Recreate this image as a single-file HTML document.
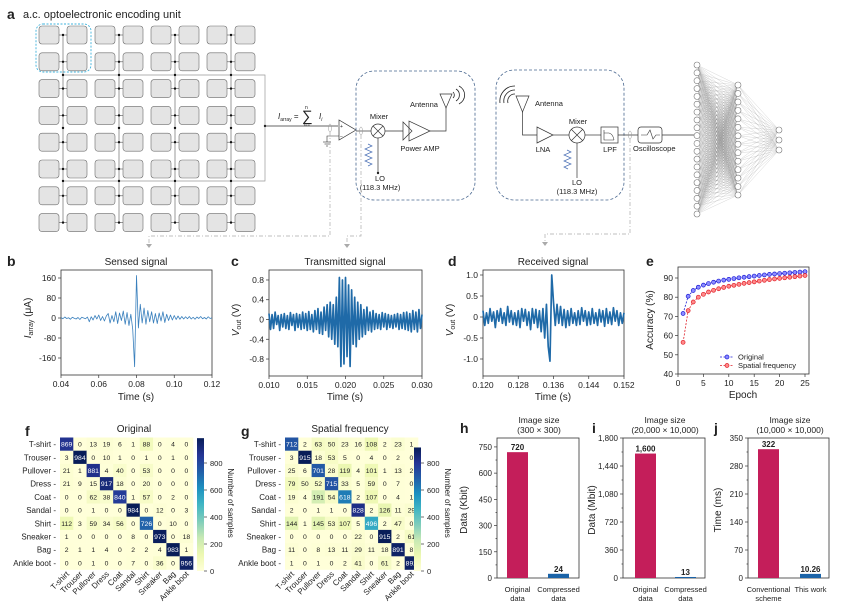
<!DOCTYPE html>
<html><head><meta charset="utf-8">
<style>
html,body{margin:0;padding:0;background:#fff;}
svg{display:block;font-family:"Liberation Sans",Arial,sans-serif;}
text{fill:#222;}
</style></head>
<body>
<svg id="fig" width="860" height="615" viewBox="0 0 860 615" xmlns="http://www.w3.org/2000/svg">
<g id="panel-a">
  <text x="7" y="19" font-size="14" font-weight="bold">a</text>
  <text x="23" y="18" font-size="11">a.c. optoelectronic encoding unit</text>
  <rect x="36" y="24" width="55" height="48" rx="7" fill="none" stroke="#3fb3dc" stroke-width="0.9" stroke-dasharray="2 1.5"/>
  <polyline points="62,75 265,75 265,181 62,181" fill="none" stroke="#999" stroke-width="0.7"/>
  <line x1="265" y1="126" x2="338" y2="126" stroke="#333" stroke-width="0.7"/>
  <circle cx="265" cy="126" r="1.2" fill="#222"/>
  <text x="278" y="119" font-size="8" font-style="italic">I<tspan font-size="5" font-style="normal" dy="2">array</tspan><tspan dy="-2" font-style="normal" font-size="8"> = </tspan></text>
  <text x="302" y="121" font-size="15">∑</text>
  <text x="305" y="109" font-size="5">n</text>
  <text x="304" y="126" font-size="4.5">i=1</text>
  <text x="319" y="119" font-size="8" font-style="italic">I<tspan font-size="5" dy="2">i</tspan></text>
  <ellipse cx="330" cy="128" rx="1.5" ry="4" fill="none" stroke="#999" stroke-width="0.5"/>
  <polygon points="339,120 339,140 356,130" fill="none" stroke="#333" stroke-width="0.7"/>
  <text x="340" y="128" font-size="5">+</text>
  <text x="340" y="138" font-size="5">−</text>
  <polyline points="339,136 327,136 327,142" fill="none" stroke="#333" stroke-width="0.6"/>
  <line x1="323" y1="142" x2="331" y2="142" stroke="#333" stroke-width="0.6"/>
  <line x1="324.5" y1="144" x2="329.5" y2="144" stroke="#333" stroke-width="0.6"/>
  <line x1="326" y1="146" x2="328" y2="146" stroke="#333" stroke-width="0.6"/>
  <rect x="356" y="71" width="119" height="129" rx="18" fill="none" stroke="#4a6890" stroke-width="0.8" stroke-dasharray="3 2"/>
  <line x1="356" y1="131" x2="371" y2="131" stroke="#333" stroke-width="0.7"/>
  <ellipse cx="361" cy="131" rx="1.5" ry="4" fill="none" stroke="#999" stroke-width="0.5"/>
  <circle cx="378" cy="131" r="7" fill="#fff" stroke="#333" stroke-width="0.7"/>
  <path d="M373,126 L383,136 M383,126 L373,136" stroke="#333" stroke-width="0.7"/>
  <text x="379" y="119" font-size="7.5" text-anchor="middle">Mixer</text>
  <line x1="378" y1="138" x2="378" y2="173" stroke="#333" stroke-width="0.7"/>
  <circle cx="378" cy="173" r="1.2" fill="#222"/>
  <polyline points="368,144 372,146 365,149 372,152 365,155 372,158 365,161 372,164 368,166" fill="none" stroke="#4a6fb5" stroke-width="0.7"/>
  <text x="380" y="181" font-size="7.5" text-anchor="middle">LO</text>
  <text x="380" y="190" font-size="7.5" text-anchor="middle">(118.3 MHz)</text>
  <line x1="385" y1="131" x2="403" y2="131" stroke="#333" stroke-width="0.7"/>
  <polygon points="403,122 403,140 412,131" fill="none" stroke="#333" stroke-width="0.7"/>
  <polygon points="409,121 409,141 430,131" fill="none" stroke="#333" stroke-width="0.7"/>
  <text x="420" y="151" font-size="7.5" text-anchor="middle">Power AMP</text>
  <polyline points="430,131 446,131 446,108" fill="none" stroke="#333" stroke-width="0.7"/>
  <polygon points="440,94 452,94 446,108" fill="none" stroke="#333" stroke-width="0.7"/>
  <path d="M453,92 a4,4 0 0 1 0,6 M456,89 a7,7 0 0 1 0,12 M459,86 a10,10 0 0 1 0,18" fill="none" stroke="#222" stroke-width="0.8"/>
  <text x="410" y="107" font-size="7.5">Antenna</text>
  <polyline points="330,132 330,236 149,236 149,246" fill="none" stroke="#aaa" stroke-width="0.7" stroke-dasharray="4 2 1 2"/>
  <polygon points="146,244 152,244 149,248" fill="#aaa"/>
  <polyline points="361,135 361,236 347,236 347,246" fill="none" stroke="#aaa" stroke-width="0.7" stroke-dasharray="4 2 1 2"/>
  <polygon points="344,244 350,244 347,248" fill="#aaa"/>

  <rect x="496" y="70" width="128" height="130" rx="18" fill="none" stroke="#4a6890" stroke-width="0.8" stroke-dasharray="3 2"/>
  <path d="M508,103 a7,7 0 0 1 7,-9 M504,103 a11,11 0 0 1 11,-13 M500,103 a15,15 0 0 1 15,-17" fill="none" stroke="#222" stroke-width="0.8"/>
  <polygon points="516,96 529,96 522.5,112" fill="none" stroke="#333" stroke-width="0.7"/>
  <text x="535" y="106" font-size="7.5">Antenna</text>
  <polyline points="522.5,112 522.5,135 537,135" fill="none" stroke="#333" stroke-width="0.7"/>
  <polygon points="537,127 537,143 553,135" fill="none" stroke="#333" stroke-width="0.7"/>
  <text x="543" y="152" font-size="7.5" text-anchor="middle">LNA</text>
  <line x1="553" y1="135" x2="569" y2="135" stroke="#333" stroke-width="0.7"/>
  <circle cx="577" cy="135" r="8" fill="#fff" stroke="#333" stroke-width="0.7"/>
  <path d="M571.5,129.5 L582.5,140.5 M582.5,129.5 L571.5,140.5" stroke="#333" stroke-width="0.7"/>
  <text x="578" y="124" font-size="7.5" text-anchor="middle">Mixer</text>
  <line x1="577" y1="143" x2="577" y2="178" stroke="#333" stroke-width="0.7"/>
  <polyline points="567,150 571,152 564,155 571,158 564,161 571,164 564,167 568,169" fill="none" stroke="#4a6fb5" stroke-width="0.7"/>
  <text x="577" y="185" font-size="7.5" text-anchor="middle">LO</text>
  <text x="577" y="194" font-size="7.5" text-anchor="middle">(118.3 MHz)</text>
  <line x1="585" y1="135" x2="601" y2="135" stroke="#333" stroke-width="0.7"/>
  <rect x="601" y="127" width="17" height="16" fill="#fff" stroke="#333" stroke-width="0.7"/>
  <path d="M604,130 L604,140 L614,140 M604,133 L609,133 Q613,134 614,140" fill="none" stroke="#333" stroke-width="0.6"/>
  <text x="610" y="152" font-size="7.5" text-anchor="middle">LPF</text>
  <line x1="618" y1="135" x2="638" y2="135" stroke="#333" stroke-width="0.7"/>
  <ellipse cx="630" cy="135" rx="1.5" ry="4" fill="none" stroke="#999" stroke-width="0.5"/>
  <rect x="638" y="127" width="24" height="16" rx="3" fill="#fff" stroke="#333" stroke-width="0.7"/>
  <path d="M641,135 L647,135 L650,130 L653,139 L656,135 L660,135" fill="none" stroke="#333" stroke-width="0.6"/>
  <text x="633" y="151" font-size="7.5">Oscilloscope</text>
  <line x1="662" y1="135" x2="695" y2="135" stroke="#333" stroke-width="0.7"/>
  <polyline points="630,139 630,234 545,234 545,244" fill="none" stroke="#aaa" stroke-width="0.7" stroke-dasharray="4 2 1 2"/>
  <polygon points="542,242 548,242 545,246" fill="#aaa"/>
  <g id="grid"></g>
  <g id="net"></g>
</g>
<g id="plots"></g>
</svg>
<script>
const bStart = 0.04, bStep = 0.001;
const bValues = [2,-3,4,-2,1,-5,3,-1,-4,2,
 -6,3,0,-3,4,-15,5,-8,10,-4,
 12,-10,6,-12,8,18,-20,10,-15,25,
 -22,20,-10,28,-25,22,-30,15,-45,-195,
 170,-40,55,-20,40,-25,30,-15,25,-20,
 18,-22,20,-12,25,-18,15,-10,12,-8,
 10,-6,8,-5,6,-4,5,-3,6,-4,
 3,-5,4,-2,6,-3,2,-4,5,-2,
 1];
const bXTicks = [0.04,0.06,0.08,0.10,0.12];
const bXLabels = ["0.04","0.06","0.08","0.10","0.12"];
const bYTicks = [160,80,0,-80,-160];
const bYLabels = ["160","80","0","-80","-160"];

const cStart = 0.010, cStep = 0.0002;
const cValues = [0.12,-0.2,0.1,-0.18,0.15,-0.1,0.08,-0.22,0.1,-0.15,
 0.12,-0.18,0.08,-0.2,0.14,-0.12,0.1,-0.22,0.12,-0.16,
 0.1,-0.2,0.15,-0.18,0.12,-0.22,0.16,-0.2,0.1,-0.25,
 0.18,-0.2,0.22,-0.28,0.15,-0.3,0.25,-0.22,0.3,-0.35,
 0.35,-0.4,0.3,-0.5,0.45,-0.55,0.85,-0.95,0.8,-0.9,
 0.85,-0.75,0.7,-0.95,0.6,-0.5,0.45,-0.55,0.35,-0.4,
 0.3,-0.35,0.2,-0.3,0.25,-0.22,0.15,-0.25,0.18,-0.2,
 0.12,-0.18,0.1,-0.2,0.14,-0.15,0.12,-0.2,0.1,-0.16,
 0.08,-0.18,0.1,-0.15,0.12,-0.2,0.1,-0.18,0.14,-0.2,
 0.15,-0.22,0.12,-0.25,0.18,-0.2,0.15,-0.25,0.2,-0.18,
 0.1];
const cXTicks = [0.010,0.015,0.020,0.025,0.030];
const cXLabels = ["0.010","0.015","0.020","0.025","0.030"];
const cYTicks = [0.8,0.4,0,-0.4,-0.8];
const cYLabels = ["0.8","0.4","0","-0.4","-0.8"];

const dStart = 0.120, dStep = 0.0004;
const dValues = [0.15,-0.2,0.1,-0.15,0.2,-0.1,0.12,-0.25,0.15,-0.1,
 0.2,-0.15,0.1,-0.2,0.25,-0.12,0.15,-0.18,0.1,-0.2,
 0.15,-0.25,0.2,-0.1,0.18,-0.2,0.12,-0.3,0.2,-0.15,
 0.18,-0.25,0.15,-0.35,0.2,-0.5,0.3,-0.7,-1.05,1.0,
 0.35,-0.2,0.3,-0.15,0.25,-0.2,0.18,-0.25,0.15,-0.2,
 0.2,-0.15,0.1,-0.2,0.15,-0.18,0.22,-0.1,0.15,-0.2,
 0.12,-0.18,0.2,-0.15,0.1,-0.2,0.18,-0.12,0.15,-0.22,
 0.2,-0.15,0.12,-0.18,0.22,-0.1,0.15,-0.2,0.1,-0.15,
 0.1];
const dXTicks = [0.120,0.128,0.136,0.144,0.152];
const dXLabels = ["0.120","0.128","0.136","0.144","0.152"];
const dYTicks = [1.0,0.5,0,-0.5,-1.0];
const dYLabels = ["1.0","0.5","0","-0.5","-1.0"];

const epochs = [1,2,3,4,5,6,7,8,9,10,11,12,13,14,15,16,17,18,19,20,21,22,23,24,25];
const accOriginal = [71.5,80.5,83.5,85.2,86.3,87.1,87.8,88.4,88.9,89.3,89.7,90.1,90.4,90.7,91.0,91.3,91.6,91.9,92.1,92.3,92.5,92.7,92.9,93.1,93.3];
const accSpatial = [56.5,73,77.5,80,81.5,82.7,83.6,84.4,85.1,85.7,86.2,86.7,87.2,87.6,88,88.4,88.8,89.2,89.5,89.8,90.1,90.4,90.7,91,91.3];
const eXTicks = [0,5,10,15,20,25];
const eYTicks = [40,50,60,70,80,90];

const classes = ["T-shirt","Trouser","Pullover","Dress","Coat","Sandal","Shirt","Sneaker","Bag","Ankle boot"];
const confOriginal = [
 [869,0,13,19,6,1,88,0,4,0],
 [3,984,0,10,1,0,1,0,1,0],
 [21,1,881,4,40,0,53,0,0,0],
 [21,9,15,917,18,0,20,0,0,0],
 [0,0,62,38,840,1,57,0,2,0],
 [0,0,1,0,0,984,0,12,0,3],
 [112,3,59,34,56,0,726,0,10,0],
 [1,0,0,0,0,8,0,973,0,18],
 [2,1,1,4,0,2,2,4,983,1],
 [0,0,1,0,0,7,0,36,0,956]];
const confSpatial = [
 [712,2,63,50,23,16,108,2,23,1],
 [3,915,18,53,5,0,4,0,2,0],
 [25,6,701,28,119,4,101,1,13,2],
 [79,50,52,715,33,5,59,0,7,0],
 [19,4,191,54,618,2,107,0,4,1],
 [2,0,1,1,0,828,2,126,11,29],
 [144,1,145,53,107,5,496,2,47,0],
 [0,0,0,0,0,22,0,915,2,61],
 [11,0,8,13,11,29,11,18,891,8],
 [1,0,1,0,2,41,0,61,2,892]];
const cbTicks = [0,200,400,600,800];

const hLabels = [["Original","data"],["Compressed","data"]];
const hValues = [720,24];
const hValueLabels = ["720","24"];
const hTicks = [0,150,300,450,600,750];
const iLabels = [["Original","data"],["Compressed","data"]];
const iValues = [1600,13];
const iValueLabels = ["1,600","13"];
const iTicks = [0,360,720,1080,1440,1800];
const iTickLabels = ["0","360","720","1,080","1,440","1,800"];
const jLabels = [["Conventional","scheme"],["This work"]];
const jValues = [322,10.26];
const jValueLabels = ["322","10.26"];
const jTicks = [0,70,140,210,280,350];

const NS = "http://www.w3.org/2000/svg";
function mk(tag, attrs, parent){
  const e = document.createElementNS(NS, tag);
  for (const k in attrs) e.setAttribute(k, attrs[k]);
  parent.appendChild(e);
  return e;
}
const plots = document.getElementById("plots");
const grid = document.getElementById("grid");
const net = document.getElementById("net");

for (let p = 0; p < 4; p++) {
  const px = 39 + p * 56;
  const vl = mk("line", {x1: px+24, y1: 35, x2: px+24, y2: 223, stroke: "#555", "stroke-width": 0.6}, grid);
  
  
  for (let r = 0; r < 8; r++) {
    const y = 26 + r * 26.8;
    for (let s = 0; s < 2; s++) {
      const sq = mk("rect", {x: px + s*28, y: y, width: 20, height: 18, rx: 3, fill: "#e4e4e4", stroke: "#6a6a6a", "stroke-width": 0.6}, grid);
      
      
    }
    const hl = mk("line", {x1: px+20, y1: y+9, x2: px+28, y2: y+9, stroke: "#555", "stroke-width": 0.6}, grid);
    
    
    const dt = mk("circle", {cx: px+24, cy: y+9, r: 1.2, fill: "#111"}, grid);
    
    
  }
  [75,128,181].forEach(function(yy){
    const bn = mk("circle", {cx: px+24, cy: yy, r: 1.2, fill: "#111"}, grid);
    
    
  });
}

const layers = [];
const layerSpec = [[697,65,214,20],[738,85,195,14],[779,130,150,3]];
layerSpec.forEach(function(l){
  const pts = [];
  for (let i = 0; i < l[3]; i++) pts.push([l[0], l[1] + (l[2]-l[1]) * i / (l[3]-1)]);
  layers.push(pts);
});
for (let k = 0; k < 2; k++) {
  layers[k].forEach(function(a){
    layers[k+1].forEach(function(b){
      const ln = mk("line", {x1: a[0], y1: a[1], x2: b[0], y2: b[1], stroke: "#888", "stroke-width": 0.3, "stroke-opacity": 0.6}, net);
      
      
    });
  });
}
layers.forEach(function(L){
  L.forEach(function(a){
    const nd = mk("circle", {cx: a[0], cy: a[1], r: 3, fill: "#fff", stroke: "#777", "stroke-width": 0.6}, net);
    
    
  });
});

function frame(x0, y0, x1, y1, name){
  const f = mk("rect", {x: x0, y: y0, width: x1-x0, height: y1-y0, fill: "none", stroke: "#333", "stroke-width": 0.8}, plots);
  
  
}
function txt(x, y, s, size, anchor, name, extra){
  const t = mk("text", Object.assign({x: x, y: y, "font-size": size, "text-anchor": anchor}, extra || {}), plots);
  t.textContent = s;
  
  
  return t;
}
function tick(x1, y1, x2, y2){
  const t = mk("line", {x1: x1, y1: y1, x2: x2, y2: y2, stroke: "#333", "stroke-width": 0.7}, plots);
  
  
}
function xAxis(ticks, labels, sx, yb, name){
  ticks.forEach(function(v, i){
    tick(sx(v), yb, sx(v), yb+3);
    txt(sx(v), yb+12, labels[i], 8.5, "middle", name);
  });
}
function yAxis(ticks, labels, sy, xl, name){
  ticks.forEach(function(v, i){
    tick(xl-3, sy(v), xl, sy(v));
    txt(xl-5, sy(v)+3, labels[i], 8.5, "end", name);
  });
}
function signalPath(start, step, vals, sx, sy, color, w, name){
  let d = "";
  vals.forEach(function(v, i){ d += (i ? "L" : "M") + sx(start + i*step).toFixed(2) + "," + sy(v).toFixed(2); });
  const p = mk("path", {d: d, fill: "none", stroke: color, "stroke-width": w, "stroke-linejoin": "round"}, plots);
  
  
}

(function(){
  const sx = v => 61 + (v - 0.04) / 0.08 * 151;
  const sy = v => 318 - v * 0.25;
  frame(61, 270, 212, 375, "sensed-plot-frame");
  signalPath(bStart, bStep, bValues, sx, sy, "#3a80bd", 0.8, "sensed-signal-line");
  xAxis(bXTicks, bXLabels, sx, 375, "sensed-x-tick-label");
  yAxis(bYTicks, bYLabels, sy, 61, "sensed-y-tick-label");
  txt(136, 265, "Sensed signal", 10, "middle", "sensed-title");
  txt(136, 400, "Time (s)", 10, "middle", "sensed-x-title");
  txt(7, 266, "b", 14, "start", "panel-label-b", {"font-weight": "bold"});
  const yl = txt(0, 0, "", 10, "middle", "sensed-y-title", {transform: "translate(31,318) rotate(-90)"});
  yl.innerHTML = '<tspan font-style="italic">I</tspan><tspan font-size="7" dy="2">array</tspan><tspan dy="-2"> (μA)</tspan>';
})();

(function(){
  const sx = v => 269 + (v - 0.010) / 0.020 * 153;
  const sy = v => 319.5 - v * 49.4;
  frame(269, 270, 422, 376, "transmitted-plot-frame");
  signalPath(cStart, cStep, cValues, sx, sy, "#1f6aa8", 1.7, "transmitted-signal-line");
  xAxis(cXTicks, cXLabels, sx, 376, "transmitted-x-tick-label");
  yAxis(cYTicks, cYLabels, sy, 269, "transmitted-y-tick-label");
  txt(345, 265, "Transmitted signal", 10, "middle", "transmitted-title");
  txt(345, 400, "Time (s)", 10, "middle", "transmitted-x-title");
  txt(231, 266, "c", 14, "start", "panel-label-c", {"font-weight": "bold"});
  const yl = txt(0, 0, "", 10, "middle", "transmitted-y-title", {transform: "translate(239,320) rotate(-90)"});
  yl.innerHTML = '<tspan font-style="italic">V</tspan><tspan font-size="7" dy="2">out</tspan><tspan dy="-2"> (V)</tspan>';
})();

(function(){
  const sx = v => 483 + (v - 0.120) / 0.032 * 141;
  const sy = v => 317 - v * 42;
  frame(483, 270, 624, 376, "received-plot-frame");
  signalPath(dStart, dStep, dValues, sx, sy, "#1f6aa8", 1.7, "received-signal-line");
  xAxis(dXTicks, dXLabels, sx, 376, "received-x-tick-label");
  yAxis(dYTicks, dYLabels, sy, 483, "received-y-tick-label");
  txt(553, 265, "Received signal", 10, "middle", "received-title");
  txt(553, 400, "Time (s)", 10, "middle", "received-x-title");
  txt(448, 266, "d", 14, "start", "panel-label-d", {"font-weight": "bold"});
  const yl = txt(0, 0, "", 10, "middle", "received-y-title", {transform: "translate(453,320) rotate(-90)"});
  yl.innerHTML = '<tspan font-style="italic">V</tspan><tspan font-size="7" dy="2">out</tspan><tspan dy="-2"> (V)</tspan>';
})();

(function(){
  const sx = v => 678 + v * 127 / 25;
  const sy = v => 374 - (v - 40) * 1.92;
  frame(678, 267, 809, 374, "accuracy-plot-frame");
  xAxis(eXTicks, eXTicks.map(String), sx, 374, "epoch-tick-label");
  yAxis(eYTicks, eYTicks.map(String), sy, 678, "accuracy-tick-label");
  function series(vals, color, fill, name){
    let d = "";
    vals.forEach(function(v, i){ d += (i ? "L" : "M") + sx(epochs[i]).toFixed(2) + "," + sy(v).toFixed(2); });
    const p = mk("path", {d: d, fill: "none", stroke: color, "stroke-width": 0.8, "stroke-dasharray": "2 1.5"}, plots);
    
    
    vals.forEach(function(v, i){
      const c = mk("circle", {cx: sx(epochs[i]), cy: sy(v), r: 2, fill: fill, stroke: color, "stroke-width": 0.7}, plots);
      
      
    });
  }
  series(accOriginal, "#1c1cd6", "#8c8cff", "original-accuracy");
  series(accSpatial, "#e0202a", "#ff8a8a", "spatial-accuracy");
  [["Original", "#1c1cd6", "#8c8cff", 357], ["Spatial frequency", "#e0202a", "#ff8a8a", 365.5]].forEach(function(l){
    const ln = mk("line", {x1: 720, y1: l[3], x2: 734, y2: l[3], stroke: l[1], "stroke-width": 0.8, "stroke-dasharray": "2 1.5"}, plots);
    
    
    const c = mk("circle", {cx: 727, cy: l[3], r: 2, fill: l[2], stroke: l[1], "stroke-width": 0.7}, plots);
    
    
    txt(738, l[3]+2.5, l[0], 7.5, "start", "legend-entry");
  });
  txt(743, 398, "Epoch", 10, "middle", "epoch-axis-title");
  txt(0, 0, "Accuracy (%)", 10, "middle", "accuracy-axis-title", {transform: "translate(653,320) rotate(-90)"});
  txt(646, 266, "e", 14, "start", "panel-label-e", {"font-weight": "bold"});
})();

const ylgnbu = [[255,255,217],[237,248,177],[199,233,180],[127,205,187],[65,182,196],[29,145,192],[34,94,168],[37,52,148],[8,29,88]];
function cmap(t){
  t = Math.max(0, Math.min(1, t));
  const f = t * 8, i = Math.min(7, Math.floor(f)), r = f - i;
  const a = ylgnbu[i], b = ylgnbu[i+1];
  return "rgb(" + [0,1,2].map(k => Math.round(a[k] + (b[k]-a[k]) * r)).join(",") + ")";
}
function heatmap(data, x0, labelX, title, titleX, letter, letterX, cbX, name){
  const y0 = 437.5, cw = 13.3, ch = 13.2;
  let vmax = 0;
  data.forEach(r => r.forEach(v => { if (v > vmax) vmax = v; }));
  data.forEach(function(row, r){
    row.forEach(function(v, c){
      const cell = mk("rect", {x: x0 + c*cw, y: y0 + r*ch, width: cw + 0.3, height: ch + 0.3, fill: cmap(v / vmax)}, plots);
      
      
      const t = txt(x0 + c*cw + cw/2, y0 + r*ch + ch/2 + 2.5, String(v), 6.8, "middle", name + '-cell-value');
      if (v / vmax > 0.45) t.setAttribute("style", "fill:#fff");
    });
    txt(labelX, y0 + r*ch + ch/2 + 3, classes[r] + " -", 8, "end", name + '-row-label');
  });
  classes.forEach(function(cl, c){
    const cx = x0 + c*cw + cw/2;
    txt(0, 0, cl, 8, "end", name + '-column-label', {transform: "translate(" + (cx + 3) + "," + (y0 + 10*ch + 5) + ") rotate(-45)"});
  });
  const gid = name + "-grad";
  const defs = mk("defs", {}, plots);
  const lg = mk("linearGradient", {id: gid, x1: 0, y1: 1, x2: 0, y2: 0}, defs);
  for (let s = 0; s <= 8; s++) {
    mk("stop", {offset: s/8, "stop-color": cmap(s/8)}, lg);
  }
  const pxPer = 0.135;
  const cbBottom = 571, cbTop = cbBottom - vmax * pxPer;
  const cb = mk("rect", {x: cbX, y: cbTop, width: 7, height: cbBottom - cbTop, fill: "url(#" + gid + ")"}, plots);
  
  
  cbTicks.forEach(function(v){
    const yy = cbBottom - v * pxPer;
    tick(cbX + 7, yy, cbX + 10, yy);
    txt(cbX + 13, yy + 3, String(v), 7.5, "start", name + '-colorbar-tick');
  });
  txt(0, 0, "Number of samples", 8, "middle", name + '-colorbar-title', {transform: "translate(" + (cbX + 31) + ",503) rotate(90)"});
  txt(titleX, 432, title, 10, "middle", name + '-title');
  txt(letterX, 436, letter, 14, "start", "panel-label-" + letter, {"font-weight": "bold"});
}
heatmap(confOriginal, 60, 56, "Original", 134, "f", 25, 197, "original-confusion");
heatmap(confSpatial, 285, 281, "Spatial frequency", 350, "g", 241, 414, "spatial-confusion");

function barChart(x0, x1, top, vmax, ticks, tickLabels, vals, valLabels, cats, bx, title1, title2, titleX, ylab, ylabX, letter, letterX, name){
  const bottom = 578;
  const sy = v => bottom - v / vmax * (bottom - top);
  frame(x0, top, x1, bottom, name + "-frame");
  ticks.forEach(function(v, i){
    tick(x0 - 3, sy(v), x0, sy(v));
    txt(x0 - 5, sy(v) + 3, tickLabels[i], 8, "end", name + "-tick-label");
    if (i < ticks.length - 1) {
      const m = (v + ticks[i+1]) / 2;
      tick(x0 - 1.5, sy(m), x0, sy(m));
    }
  });
  const colors = ["#c41e5a", "#1a63a8"];
  vals.forEach(function(v, i){
    const b = mk("rect", {x: bx[i], y: sy(v), width: 21, height: bottom - sy(v), fill: colors[i]}, plots);
    
    
    txt(bx[i] + 10.5, sy(v) - 2, valLabels[i], 8, "middle", name + '-value-label', {"font-weight": "bold"});
    cats[i].forEach(function(s, k){
      txt(bx[i] + 10.5, 592 + k*9, s, 7.5, "middle", name + '-category-label');
    });
  });
  txt(titleX, 423, title1, 8.5, "middle", name + '-title');
  txt(titleX, 433, title2, 8.5, "middle", name + '-subtitle');
  txt(0, 0, ylab, 10, "middle", name + '-y-title', {transform: "translate(" + ylabX + ",510) rotate(-90)"});
  txt(letterX, 433, letter, 14, "start", "panel-label-" + letter, {"font-weight": "bold"});
}
barChart(497, 579, 438, 801, hTicks, hTicks.map(String), hValues, hValueLabels, hLabels, [507, 548], "Image size", "(300 × 300)", 539, "Data (Kbit)", 467, "h", 460, "data-size-small");
barChart(623, 705, 438, 1800, iTicks, iTickLabels, iValues, iValueLabels, iLabels, [635, 675], "Image size", "(20,000 × 10,000)", 665, "Data (Mbit)", 595, "i", 592, "data-size-large");
barChart(748, 829, 438, 350, jTicks, jTicks.map(String), jValues, jValueLabels, jLabels, [758, 800], "Image size", "(10,000 × 10,000)", 790, "Time (ms)", 721, "j", 714, "processing-time");
</script>
</body></html>
